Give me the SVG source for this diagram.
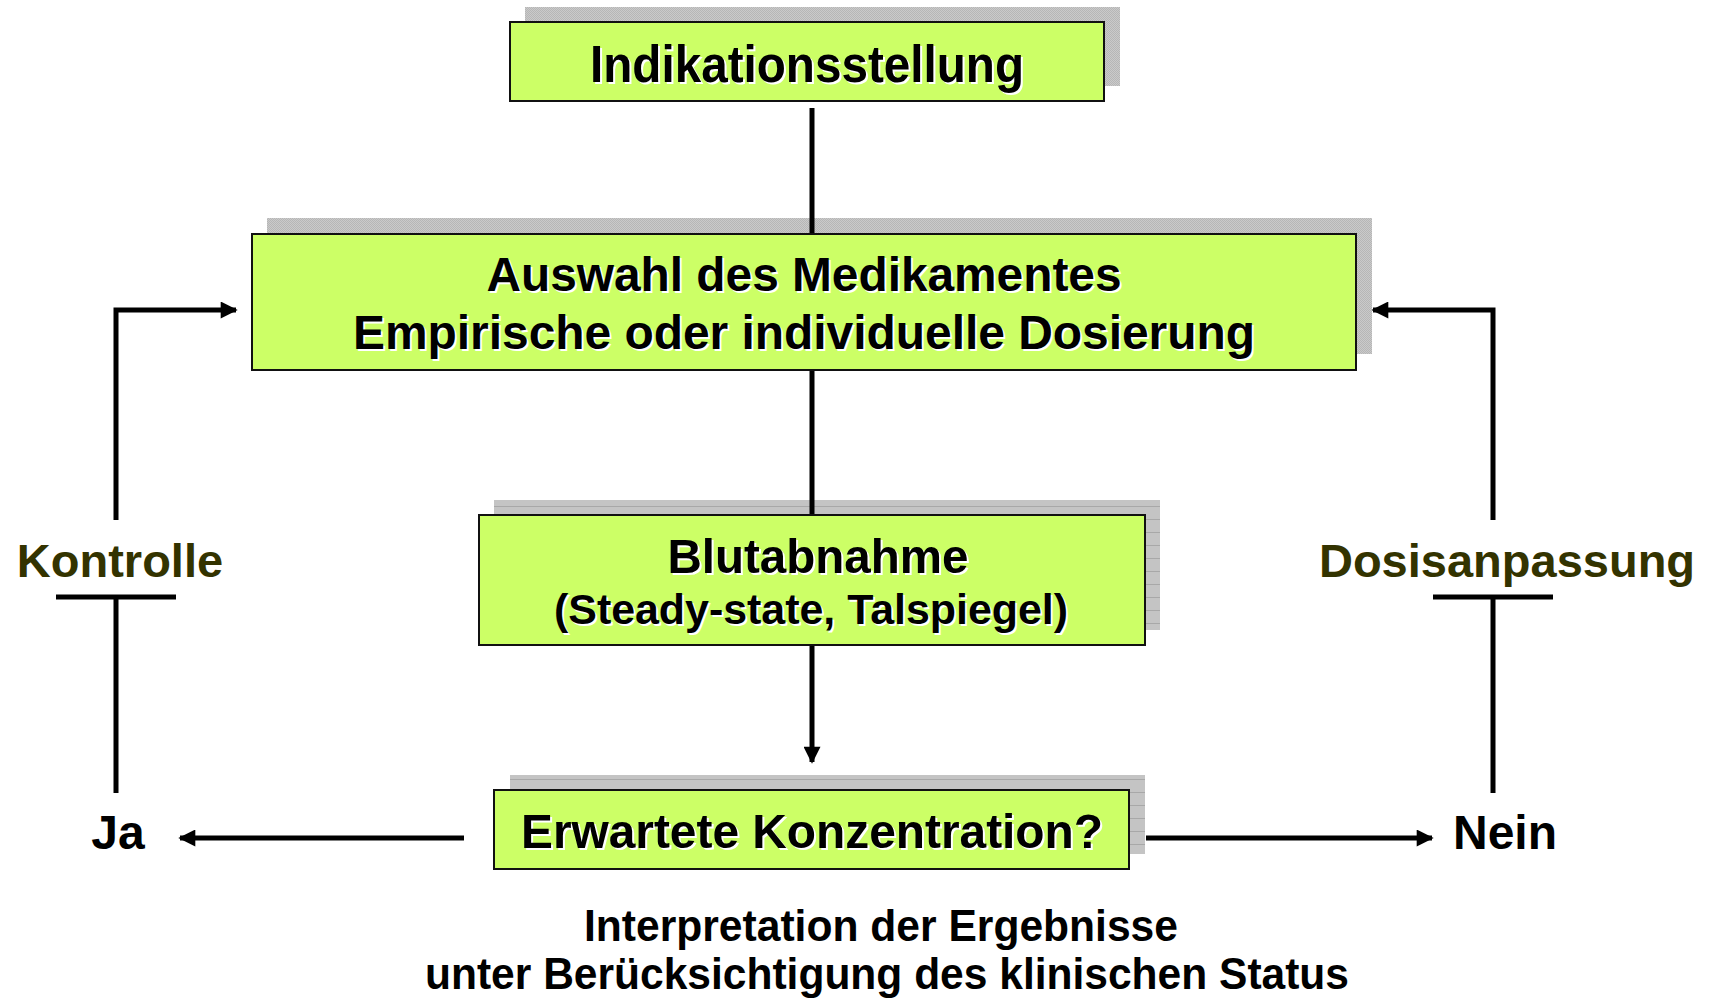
<svg xmlns="http://www.w3.org/2000/svg" width="1711" height="1001" viewBox="0 0 1711 1001">
<style>
.box{fill:#CCFF66;stroke:#111;stroke-width:2}
.t{font-family:"Liberation Sans",Arial,sans-serif;font-weight:bold;text-anchor:middle}
.sh{fill:#fff}
.fg{fill:#000}
.lbl{fill:#333300}
.ln{fill:none;stroke:#000;stroke-width:5}
</style>
<defs>
<pattern id="dots" width="2" height="2" patternUnits="userSpaceOnUse">
<rect width="2" height="2" fill="#cacaca"/>
<rect width="1" height="1" fill="#b6b6b6"/>
<rect x="1" y="1" width="1" height="1" fill="#b6b6b6"/>
</pattern>
<pattern id="stripes" width="4" height="13" patternUnits="userSpaceOnUse">
<rect width="4" height="13" fill="#c4c4c4"/>
<rect y="12" width="4" height="1" fill="#a8a8a8"/>
</pattern>
<marker id="ah" viewBox="0 0 10 10" refX="9" refY="5" markerWidth="4" markerHeight="3.4" orient="auto" markerUnits="strokeWidth">
<path d="M0,0 L10,5 L0,10 Z" fill="#000"/>
</marker>
</defs>
<rect width="1711" height="1001" fill="#fff"/>

<g id="connectors">
<line class="ln" x1="812" y1="108" x2="812" y2="234"/>
<line class="ln" x1="812" y1="370" x2="812" y2="515"/>
<line class="ln" x1="812" y1="645" x2="812" y2="762" marker-end="url(#ah)"/>
<line class="ln" x1="464" y1="838" x2="180" y2="838" marker-end="url(#ah)"/>
<line class="ln" x1="1146" y1="838" x2="1432" y2="838" marker-end="url(#ah)"/>
<polyline class="ln" points="116,520 116,310 236,310" marker-end="url(#ah)"/>
<polyline class="ln" points="1493,520 1493,310 1373,310" marker-end="url(#ah)"/>
<line class="ln" x1="56" y1="597" x2="176" y2="597"/>
<line class="ln" x1="116" y1="597" x2="116" y2="793"/>
<line class="ln" x1="1433" y1="597" x2="1553" y2="597"/>
<line class="ln" x1="1493" y1="597" x2="1493" y2="793"/>
</g>

<g id="n1">
<rect x="525" y="7" width="595" height="79" fill="url(#dots)"/>
<rect class="box" x="510" y="22" width="594" height="79"/>
<text class="t sh" x="809" y="84" font-size="52" textLength="434" lengthAdjust="spacingAndGlyphs">Indikationsstellung</text>
<text class="t fg" x="807" y="82" font-size="52" textLength="434" lengthAdjust="spacingAndGlyphs">Indikationsstellung</text>
</g>

<g id="n2">
<rect x="267" y="218" width="1105" height="136" fill="url(#dots)"/>
<line class="ln" x1="812" y1="218" x2="812" y2="234"/>
<rect class="box" x="252" y="234" width="1104" height="136"/>
<text class="t sh" x="806" y="293" font-size="48" textLength="635" lengthAdjust="spacingAndGlyphs">Auswahl des Medikamentes</text>
<text class="t fg" x="804" y="291" font-size="48" textLength="635" lengthAdjust="spacingAndGlyphs">Auswahl des Medikamentes</text>
<text class="t sh" x="806" y="351" font-size="48" textLength="902" lengthAdjust="spacingAndGlyphs">Empirische oder individuelle Dosierung</text>
<text class="t fg" x="804" y="349" font-size="48" textLength="902" lengthAdjust="spacingAndGlyphs">Empirische oder individuelle Dosierung</text>
</g>

<g id="n3">
<rect x="494" y="500" width="666" height="130" fill="url(#stripes)"/>
<line class="ln" x1="812" y1="500" x2="812" y2="515"/>
<rect class="box" x="479" y="515" width="666" height="130"/>
<text class="t sh" x="820" y="575" font-size="49" textLength="301" lengthAdjust="spacingAndGlyphs">Blutabnahme</text>
<text class="t fg" x="818" y="573" font-size="49" textLength="301" lengthAdjust="spacingAndGlyphs">Blutabnahme</text>
<text class="t sh" x="813" y="626" font-size="42" textLength="514" lengthAdjust="spacingAndGlyphs">(Steady-state, Talspiegel)</text>
<text class="t fg" x="811" y="624" font-size="42" textLength="514" lengthAdjust="spacingAndGlyphs">(Steady-state, Talspiegel)</text>
</g>

<g id="n4">
<rect x="510" y="775" width="635" height="79" fill="url(#stripes)"/>
<rect class="box" x="494" y="790" width="635" height="79"/>
<text class="t sh" x="814" y="850" font-size="49" textLength="582" lengthAdjust="spacingAndGlyphs">Erwartete Konzentration?</text>
<text class="t fg" x="812" y="848" font-size="49" textLength="582" lengthAdjust="spacingAndGlyphs">Erwartete Konzentration?</text>
</g>

<g id="kontrolle"><text class="t lbl" x="120" y="577" font-size="47">Kontrolle</text></g>
<g id="dosisanpassung"><text class="t lbl" x="1507" y="577" font-size="47">Dosisanpassung</text></g>
<g id="ja"><text class="t fg" x="118" y="849" font-size="48">Ja</text></g>
<g id="nein"><text class="t fg" x="1505" y="849" font-size="48">Nein</text></g>

<g id="interpretation">
<text class="t fg" x="881" y="941" font-size="45" textLength="594" lengthAdjust="spacingAndGlyphs">Interpretation der Ergebnisse</text>
<text class="t fg" x="887" y="989" font-size="45" textLength="924" lengthAdjust="spacingAndGlyphs">unter Berücksichtigung des klinischen Status</text>
</g>
</svg>
